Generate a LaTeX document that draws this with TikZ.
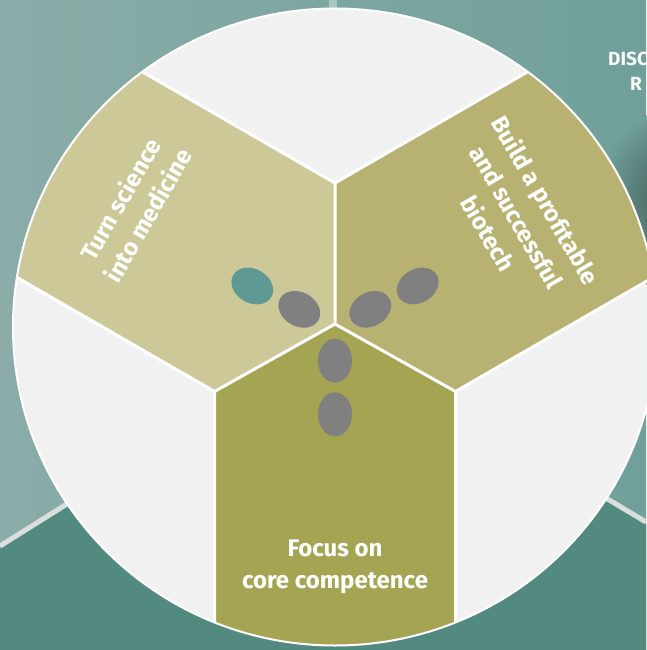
\documentclass[tikz,border=0pt]{standalone}
\usepackage{fontspec}
\setmainfont{Fira Sans}
\usetikzlibrary{shapes.geometric}
\definecolor{bgL}{HTML}{8BACA8}
\definecolor{bgR}{HTML}{70A09A}
\definecolor{floorc}{HTML}{528A80}
\definecolor{stripec}{HTML}{DADFDE}
\definecolor{wallline}{HTML}{A9C6C2}
\definecolor{shadowc}{HTML}{3A4F4B}
\definecolor{circfill}{HTML}{F1F1F1}
\definecolor{olTL}{HTML}{CDC898}
\definecolor{olTR}{HTML}{B7B271}
\definecolor{olB}{HTML}{A5A453}
\definecolor{footteal}{HTML}{5E9A93}
\definecolor{footgrey}{HTML}{808080}
\tikzset{
  foot/.style={ellipse, fill=footgrey, inner sep=0pt, minimum width=44pt, minimum height=34pt},
  lab/.style={text=white, font=\bfseries\fontsize{24}{32}\selectfont, inner sep=0pt},
  smalllab/.style={text=white!96!bgR, font=\bfseries\fontsize{19}{24}\selectfont, inner sep=0pt},
  sep/.style={draw=white, line width=3pt, line join=round},
}
\begin{document}
\begin{tikzpicture}[x=1pt,y=-1pt]
\useasboundingbox (0,0) rectangle (646,650);
% background scene
\shade[left color=bgL, right color=bgR] (0,0) rectangle (646,650);
\shade[inner color=shadowc, outer color=bgR] (690,200) circle (95pt);
\fill[floorc] (0,548) -- (335,338) -- (646,524) -- (646,650) -- (0,650) -- cycle;
\draw[stripec, line width=5pt] (0,546) -- (335,336) -- (646,522);
\draw[wallline, line width=8pt] (333,0) -- (333,60);
% coordinates
\coordinate (C) at (335,324);
\coordinate (P1) at (335,183);
\coordinate (P2) at (214.5,391.5);
\coordinate (P3) at (455.5,391.5);
\coordinate (A1) at (-98,-67);
\coordinate (A2) at (-218.5,141.5);
\coordinate (B1) at (768,-67);
\coordinate (B3) at (888.5,141.5);
\coordinate (D2) at (214.5,700);
\coordinate (D3) at (455.5,700);
\begin{scope}
\clip (335,327) ellipse (322pt and 318.5pt);
\fill[circfill] (0,0) rectangle (646,650);
\fill[olTL] (C) -- (P1) -- (A1) -- (A2) -- (P2) -- cycle;
\fill[olTR] (C) -- (P1) -- (B1) -- (B3) -- (P3) -- cycle;
\fill[olB] (C) -- (P2) -- (D2) -- (D3) -- (P3) -- cycle;
\draw[sep] (P1) -- (C) -- (P2) (C) -- (P3)
  (A1) -- (P1) -- (B1) (A2) -- (P2) -- (D2) (B3) -- (P3) -- (D3);
\end{scope}
\draw[white, line width=2pt] (335,327) ellipse (322pt and 318.5pt);
% footprints
\node[foot, fill=footteal, rotate=-30] (f1) at (252.3,286) {};
\node[foot, rotate=-30] (f2) at (299.3,309.3) {};
\node[foot, rotate=30] (f3) at (370.3,309.3) {};
\node[foot, rotate=30] (f4) at (417.7,286) {};
\node[foot, rotate=90] (f5) at (335,360.7) {};
\node[foot, rotate=90] (f6) at (335,414.3) {};
% labels
\node[lab, rotate=60] (t1) at (120,199) {Turn science};
\node[lab, rotate=60] (t2) at (147.7,215) {into medicine};
\node[lab, rotate=-60] (r1) at (544,201) {Build a profitable};
\node[lab, rotate=-60] (r2) at (516.3,217) {and successful};
\node[lab, rotate=-60] (r3) at (488.6,233) {biotech};
\node[lab, anchor=base] (b1) at (335,556) {Focus on};
\node[lab, anchor=base] (b2) at (335,588) {core competence};
\node[smalllab, anchor=base west] (d1) at (608,66) {DISC};
\node[smalllab, anchor=base west] (d2) at (630,91) {R};
\end{tikzpicture}
\end{document}
